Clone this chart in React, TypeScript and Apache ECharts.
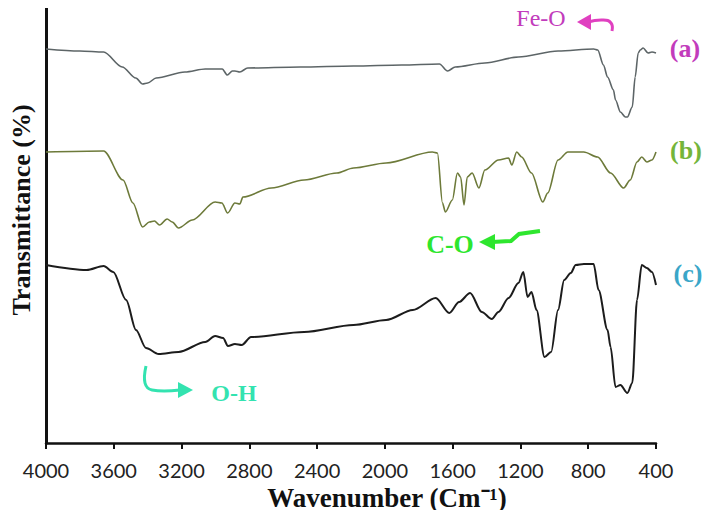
import React, { useEffect, useRef } from "react";
import * as echarts from "echarts";

// Wavenumber (cm-1) and transmittance (arbitrary units, curves offset)
const seriesNames = ["(a)", "(b)", "(c)"];

const curveA: [number, number][] = [
  [4000, 394], [3800, 392], [3660, 391], [3550, 376], [3470, 365], [3430, 359],
  [3400, 360], [3350, 365], [3180, 371], [3060, 374], [2960, 374], [2930, 368],
  [2900, 372], [2885, 372], [2856, 371], [2810, 375], [2500, 376], [2185, 377],
  [1900, 378], [1678, 379], [1630, 372], [1585, 376], [1410, 380], [1212, 386],
  [978, 392], [768, 394], [744, 393], [710, 378], [686, 366], [651, 353],
  [639, 343], [610, 331], [581, 326], [569, 326], [540, 336], [523, 366],
  [505, 390], [493, 393], [476, 395], [447, 390], [424, 391], [400, 390],
];

const curveB: [number, number][] = [
  [4000, 291], [3660, 292], [3545, 263], [3487, 240], [3430, 216], [3390, 221],
  [3360, 222], [3330, 218], [3285, 224], [3255, 221], [3218, 215], [3137, 223],
  [3002, 241], [2962, 240], [2928, 230], [2885, 240], [2856, 239], [2838, 246],
  [2670, 255], [2477, 263], [2283, 270], [2185, 275], [1993, 280], [1720, 291],
  [1690, 290], [1660, 240], [1643, 231], [1602, 243], [1572, 270], [1553, 266],
  [1533, 238], [1514, 266], [1485, 270], [1445, 255], [1410, 273], [1330, 283],
  [1270, 285], [1251, 278], [1222, 291], [1193, 286], [1135, 270], [1068, 241],
  [1039, 250], [978, 283], [920, 291], [826, 291], [745, 286], [668, 270],
  [591, 255], [552, 263], [512, 281], [484, 286], [454, 281], [424, 283], [400, 291],
];

const curveC: [number, number][] = [
  [4000, 178], [3760, 173], [3660, 177], [3603, 171], [3527, 143], [3469, 113],
  [3410, 95], [3335, 89], [3218, 91], [3060, 101], [3002, 107], [2955, 105],
  [2926, 97], [2885, 99], [2845, 98], [2790, 106], [2477, 111], [2185, 118],
  [1993, 123], [1835, 133], [1700, 145], [1620, 130], [1562, 141], [1497, 150],
  [1428, 131], [1369, 124], [1330, 131], [1270, 145], [1212, 160], [1183, 171],
  [1158, 146], [1135, 151], [1105, 133], [1058, 86], [1019, 91], [978, 133],
  [942, 163], [903, 170], [874, 178], [826, 179], [768, 179], [739, 153],
  [686, 113], [668, 96], [639, 56], [610, 58], [569, 50], [540, 60],
  [512, 143], [484, 178], [454, 175], [424, 171], [400, 158],
];

const xTicks = { min: 400, max: 4000, interval: 400 };

const lineColors = ["#5d6567", "#6d7a3a", "#1c1c1c"];
const labelColors = ["#c23cbc", "#74b53a", "#3aa6c8"];

export default function App() {
  const ref = useRef<HTMLDivElement>(null);
  useEffect(() => {
    if (!ref.current) return;
    const chart = echarts.init(ref.current, undefined, { renderer: "svg" });
    const serif = "'Liberation Serif', 'Times New Roman', serif";
    const txt = (text: string, x: number, y: number, fill: string, size: number, weight = "bold") => ({
      type: "text",
      style: {
        text, x, y, fill,
        font: `${weight} ${size}px ${serif}`,
        textAlign: "center", textVerticalAlign: "middle",
        align: "center", verticalAlign: "middle",
      },
    });
    chart.setOption({
      animation: false,
      backgroundColor: "#ffffff",
      grid: { left: 39, right: 54, top: 5, bottom: 75 },
      xAxis: {
        type: "value",
        inverse: true,
        min: xTicks.min,
        max: xTicks.max,
        interval: xTicks.interval,
        name: "Wavenumber (Cm⁻¹)",
        nameLocation: "middle",
        nameGap: 40,
        nameTextStyle: { fontFamily: serif, fontWeight: "bold", fontSize: 27, color: "#111", padding: [0, 0, 0, 72] },
        axisLine: { onZero: false, lineStyle: { color: "#111", width: 2.5 } },
        axisTick: { show: true, length: 6, lineStyle: { color: "#111", width: 2 } },
        axisLabel: {
          fontFamily: "Lato, 'Open Sans', sans-serif", fontSize: 20, color: "#222", margin: 17,
          formatter: (v: number) => String(v),
        },
        splitLine: { show: false },
      },
      yAxis: {
        type: "value",
        min: 0,
        max: 438,
        name: "Transmittance (%)",
        nameLocation: "middle",
        nameRotate: 90,
        nameGap: 12,
        nameTextStyle: { fontFamily: serif, fontWeight: "bold", fontSize: 26, color: "#111", padding: [0, 0, 0, 28] },
        axisLine: { show: true, lineStyle: { color: "#111", width: 3 } },
        axisTick: { show: false },
        axisLabel: { show: false },
        splitLine: { show: false },
      },
      series: [curveA, curveB, curveC].map((d, i) => ({
        name: seriesNames[i],
        type: "line",
        data: d,
        showSymbol: false,
        smooth: 0.3,
        smoothMonotone: "x",
        lineStyle: { color: lineColors[i], width: i === 2 ? 2 : 1.6 },
      })),
      graphic: [
        txt("(a)", 685, 48, labelColors[0], 26),
        txt("(b)", 686, 150, labelColors[1], 26),
        txt("(c)", 688, 273, labelColors[2], 26),
        txt("Fe-O", 541, 18, "#c23cbc", 24, "normal"),
        { type: "polyline", shape: { points: [[588, 22], [603, 20], [611, 23], [612, 31]], smooth: 0.5 }, style: { stroke: "#e040c0", lineWidth: 3, fill: "none" } },
        { type: "polygon", shape: { points: [[577, 22], [591, 14], [591, 30]] }, style: { fill: "#e040c0" } },
        txt("C-O", 450, 244, "#2ee62e", 26),
        { type: "polyline", shape: { points: [[492, 242], [511, 241], [519, 234], [540, 231]] }, style: { stroke: "#2ee62e", lineWidth: 4, fill: "none" } },
        { type: "polygon", shape: { points: [[479, 242], [495, 234], [495, 250]] }, style: { fill: "#2ee62e" } },
        txt("O-H", 234, 393, "#33e3b0", 24),
        { type: "polyline", shape: { points: [[146, 366], [145, 383], [152, 390], [180, 390]], smooth: 0.4 }, style: { stroke: "#33e3b0", lineWidth: 3, fill: "none" } },
        { type: "polygon", shape: { points: [[193, 390], [178, 382], [178, 398]] }, style: { fill: "#33e3b0" } },
      ],
    });
    return () => chart.dispose();
  }, []);
  return <div ref={ref} style={{ width: 710, height: 518, margin: -8 }} />;
}
